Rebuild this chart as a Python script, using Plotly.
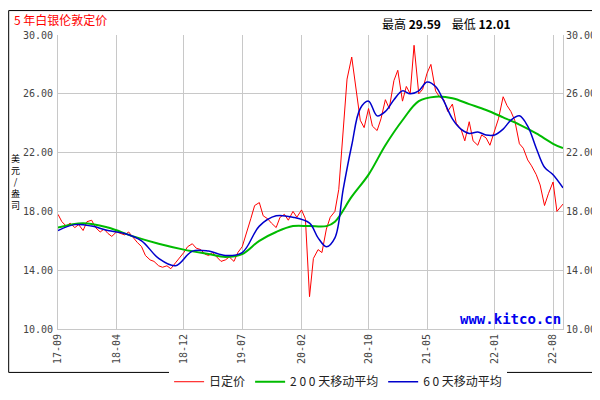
import pandas as pd
import plotly.graph_objs as go

# semi-monthly silver fix, USD/oz
price = [17.8, 17.3, 17.0, 17.2, 16.9, 17.1, 16.7, 17.3, 17.4, 16.9, 16.6, 16.8,
         16.5, 16.3, 16.6, 16.5, 16.4, 16.6, 16.2, 15.9, 15.6, 15.0, 14.7, 14.6,
         14.3, 14.2, 14.3, 14.1, 14.5, 14.8, 15.2, 15.6, 15.8, 15.5, 15.4, 15.1,
         15.0, 15.2, 14.9, 14.6, 14.7, 14.9, 14.6, 15.2, 15.6, 16.4, 17.5, 18.4,
         18.6, 17.7, 17.5, 17.2, 16.9, 17.6, 17.8, 17.4, 18.0, 17.6, 18.1, 17.5,
         12.2, 14.8, 15.4, 15.2, 16.8, 17.6, 18.0, 19.5, 23.6, 27.0, 28.5, 26.5,
         24.2, 23.7, 25.0, 23.8, 23.5, 24.3, 25.6, 25.0, 26.9, 27.6, 25.5, 26.5,
         26.0, 29.3, 26.0, 26.3, 27.4, 28.0, 26.2, 25.8, 25.6, 24.8, 25.3, 24.0,
         23.6, 22.8, 24.1, 22.8, 22.5, 23.2, 23.0, 22.5, 23.5, 24.3, 25.8, 25.2,
         24.8, 24.2, 22.6, 22.3, 21.5, 21.1, 20.5, 19.8, 18.4, 19.2, 20.0, 18.0]
price_dates = list(pd.date_range("2017-09-01", periods=len(price), freq="SMS"))
price.append(18.5)
price_dates.append(pd.Timestamp("2022-09-06"))

ma60_dates = ["2017-09-01", "2017-11-01", "2018-01-01", "2018-03-01", "2018-05-01",
              "2018-07-01", "2018-09-01", "2018-11-01", "2019-01-01", "2019-03-01",
              "2019-05-01", "2019-07-01", "2019-09-01", "2019-11-01", "2020-01-01",
              "2020-03-01", "2020-04-01", "2020-05-01", "2020-06-01", "2020-07-01",
              "2020-08-01", "2020-09-01", "2020-10-01", "2020-11-01", "2020-12-01",
              "2021-01-01", "2021-02-01", "2021-03-01", "2021-04-01", "2021-05-01",
              "2021-06-01", "2021-07-01", "2021-08-01", "2021-09-01", "2021-10-01",
              "2021-11-01", "2021-12-01", "2022-01-01", "2022-02-01", "2022-03-01",
              "2022-04-01", "2022-05-01", "2022-06-01", "2022-07-01", "2022-08-01",
              "2022-09-06"]
ma60 = [16.7, 17.1, 17.0, 16.7, 16.5, 16.0, 14.8, 14.3, 15.3, 15.3, 15.0, 15.2,
        17.0, 17.7, 17.6, 17.2, 16.2, 15.6, 16.2, 19.5, 22.5, 25.0, 25.5, 24.5,
        24.8, 25.6, 26.2, 26.0, 26.2, 26.8, 26.5, 25.5, 24.3, 23.6, 23.3, 23.4,
        23.2, 23.2, 23.6, 24.2, 24.5, 23.8, 22.3, 21.0, 20.5, 19.6]

ma200_dates = ["2017-09-01", "2017-12-01", "2018-03-01", "2018-06-01", "2018-09-01",
               "2018-12-01", "2019-03-01", "2019-05-01", "2019-07-01", "2019-09-01",
               "2019-11-01", "2020-01-01", "2020-03-01", "2020-05-01", "2020-06-01",
               "2020-08-01", "2020-10-01", "2020-12-01", "2021-02-01", "2021-04-01",
               "2021-06-01", "2021-08-01", "2021-10-01", "2021-12-01", "2022-02-01",
               "2022-04-01", "2022-06-01", "2022-08-01", "2022-09-06"]
ma200 = [16.9, 17.2, 16.9, 16.3, 15.8, 15.4, 15.1, 14.9, 15.1, 16.0, 16.6, 17.0,
         17.0, 17.0, 17.3, 19.0, 20.5, 22.5, 24.2, 25.5, 25.8, 25.7, 25.3, 24.9,
         24.4, 23.9, 23.3, 22.6, 22.3]

tick_dates = ["2017-09-01", "2018-04-01", "2018-12-01", "2019-07-01", "2020-02-01",
              "2020-10-01", "2021-05-01", "2022-01-01", "2022-08-01"]
tick_labels = ["17-09", "18-04", "18-12", "19-07", "20-02", "20-10", "21-05", "22-01", "22-08"]
y_ticks = [10, 14, 18, 22, 26, 30]

mono = "DejaVu Sans Mono"
fig = go.Figure()
fig.add_trace(go.Scatter(x=price_dates, y=price, mode="lines", name="日定价",
                         line=dict(color="red", width=1)))
fig.add_trace(go.Scatter(x=ma200_dates, y=ma200, mode="lines", name="2 0 0 天移动平均",
                         line=dict(color="#00bb00", width=2, shape="spline")))
fig.add_trace(go.Scatter(x=ma60_dates, y=ma60, mode="lines", name="6 0 天移动平均",
                         line=dict(color="#0000cc", width=1.5, shape="spline")))
# invisible trace so the right axis shows its labels
fig.add_trace(go.Scatter(x=[tick_dates[0]], y=[20], yaxis="y2", showlegend=False,
                         mode="markers", marker=dict(opacity=0)))

axis_font = dict(family=mono, size=10, color="#444")
fig.update_layout(
    width=600, height=400,
    paper_bgcolor="white", plot_bgcolor="white",
    margin=dict(l=50, r=38, t=27, b=48),
    showlegend=True,
    legend=dict(orientation="h", x=0.22, y=-0.13, xanchor="left", yanchor="top",
                font=dict(family="Noto Sans CJK SC", size=12, color="#222"),
                itemwidth=30, tracegroupgap=0),
    xaxis=dict(range=["2017-09-01", "2022-09-06"], tickvals=tick_dates, ticktext=tick_labels,
               tickangle=-90, tickfont=axis_font, showgrid=True, gridcolor="#c8c8c8",
               showline=True, linecolor="#c8c8c8", zeroline=False, ticks=""),
    yaxis=dict(range=[10, 30], tickvals=y_ticks, tickformat=".2f", tickfont=axis_font,
               showgrid=True, gridcolor="#c8c8c8", showline=True, linecolor="#c8c8c8",
               zeroline=False, mirror=True, ticklabelstandoff=2),
    yaxis2=dict(range=[10, 30], tickvals=y_ticks, tickformat=".2f", tickfont=axis_font,
                overlaying="y", side="right", showgrid=False, zeroline=False,
                ticklabelstandoff=2),
    shapes=[dict(type="rect", xref="paper", yref="paper", x0=-50/512, x1=1+38/512,
                 y0=-48/325, y1=1+27/325, line=dict(color="black", width=1))],
    annotations=[
        dict(text="5 年白银伦敦定价", xref="paper", yref="paper", x=-47/512, y=1+27/325,
             xanchor="left", yanchor="top", showarrow=False, yshift=2,
             font=dict(family="Noto Sans CJK SC", size=12, color="red")),
        dict(text="最高 <b>29.59</b>    最低 <b>12.01</b>", xref="paper", yref="paper",
             x=0.9, y=1+24/325, xanchor="right", yanchor="top", showarrow=False,
             font=dict(family="Noto Sans CJK SC", size=12, color="black")),
        dict(text="美<br>元<br>/<br>盎<br>司", xref="paper", yref="paper", x=-50/512, y=0.5,
             xanchor="left", yanchor="middle", showarrow=False,
             font=dict(family="Noto Sans CJK SC", size=9, color="black")),
        dict(text="<b>www.kitco.cn</b>", xref="paper", yref="paper", x=1, y=0,
             xanchor="right", yanchor="bottom", showarrow=False,
             font=dict(family=mono, size=14, color="#0000ee")),
    ],
)

fig.write_html("out.html")
